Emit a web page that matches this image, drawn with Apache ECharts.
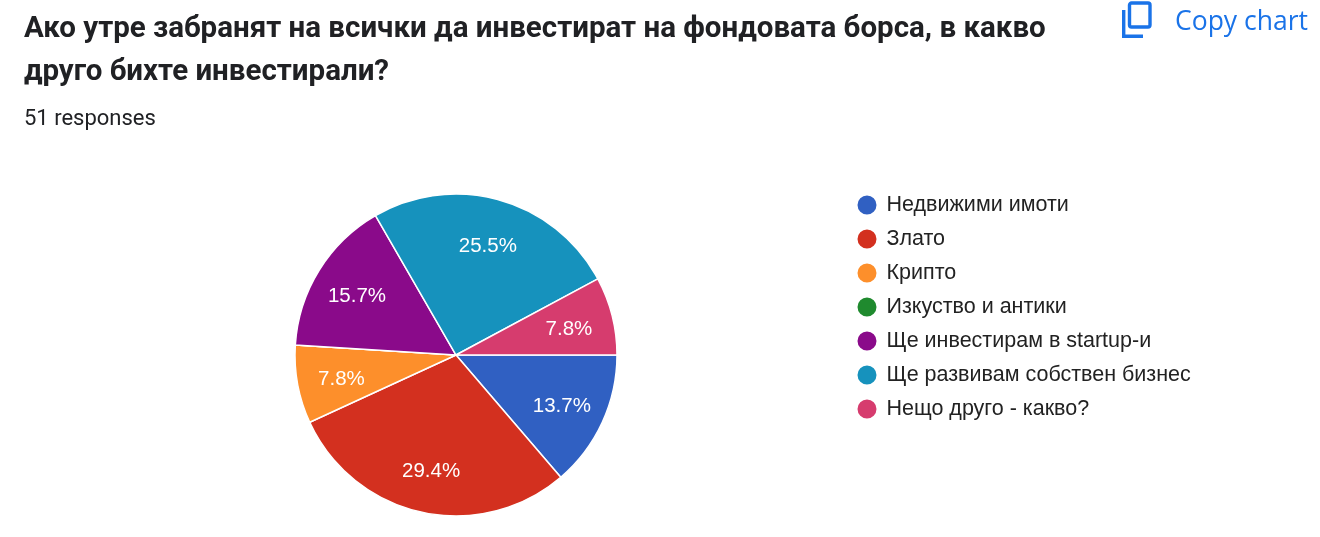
<!DOCTYPE html>
<html>
<head>
<meta charset="utf-8">
<script src="https://cdn.jsdelivr.net/npm/echarts@6/dist/echarts.min.js"></script>
<style>
  html, body { margin: 0; padding: 0; background: #fff; }
  #chart { width: 1320px; height: 537px; }
</style>
</head>
<body>
<div id="chart"></div>
<script>
// answers and how many people picked each one (51 responses)
var categories = ['Недвижими имоти', 'Злато', 'Крипто', 'Изкуство и антики',
                  'Ще инвестирам в startup-и', 'Ще развивам собствен бизнес', 'Нещо друго - какво?'];
var counts = [7, 15, 4, 0, 8, 13, 4];
var colors = ['#3060c2', '#d3301f', '#fd8f2b', '#1f8a2e', '#8a0a8a', '#1692bd', '#d63c6e'];

var total = 0;
for (var i = 0; i < counts.length; i++) total += counts[i];

var pieData = [];
for (var i = 0; i < categories.length; i++) {
    pieData.push({ name: categories[i], value: counts[i] });
}

var headFont = 'Roboto, Arial, sans-serif';
var chartFont = '"Liberation Sans", Arial, sans-serif';
var chart = echarts.init(document.getElementById('chart'), null, { renderer: 'canvas' });

chart.setOption({
    animation: false,
    color: colors,
    title: [{
        text: 'Ако утре забранят на всички да инвестират на фондовата борса, в какво\nдруго бихте инвестирали?',
        left: 24, top: 8, padding: 0,
        textStyle: { fontFamily: headFont, fontSize: 29.5, fontWeight: 'bold', color: '#202124', lineHeight: 43 }
    }, {
        text: '51 responses',
        left: 24, top: 107, padding: 0,
        textStyle: { fontFamily: headFont, fontSize: 22, fontWeight: 'normal', color: '#202124', lineHeight: 24 }
    }],
    legend: {
        orient: 'vertical',
        left: 855.5, top: 193.5,
        padding: 0,
        icon: 'circle',
        itemWidth: 21, itemHeight: 21, itemGap: 11,
        selectedMode: false,
        textStyle: { fontFamily: chartFont, fontSize: 21.5, color: '#222', lineHeight: 21, padding: [0, 0, 0, 4] },
        data: categories
    },
    graphic: [{
        type: 'group',
        x: 1122, y: 0,
        children: [{
            type: 'rect',
            shape: { x: 7.5, y: 3, width: 20.5, height: 24, r: 2 },
            style: { fill: 'none', stroke: '#1a73e8', lineWidth: 3.4 }
        }, {
            type: 'polyline',
            shape: { points: [[1.7, 10], [1.7, 36.3], [21, 36.3]] },
            style: { fill: 'none', stroke: '#1a73e8', lineWidth: 3.4 }
        }]
    }, {
        type: 'text',
        left: 1175, top: 9,
        style: { text: 'Copy chart', fontFamily: '"Open Sans", Roboto, sans-serif', fontSize: 26.5, fill: '#1a73e8' }
    }],
    series: [{
        type: 'pie',
        center: [456, 355],
        radius: 161,
        startAngle: 0,
        clockwise: true,
        avoidLabelOverlap: false,
        label: { show: false },
        labelLine: { show: false },
        emphasis: { disabled: true },
        itemStyle: { borderColor: '#fff', borderWidth: 1.5 },
        data: pieData
    }, {
        // transparent ring only used to push the percent labels outward
        type: 'pie',
        center: [456, 355],
        radius: [66, 161],
        startAngle: 0,
        clockwise: true,
        silent: true,
        avoidLabelOverlap: false,
        emphasis: { disabled: true },
        itemStyle: { color: 'rgba(0,0,0,0)', borderWidth: 0 },
        labelLine: { show: false },
        label: {
            show: true,
            position: 'inside',
            offset: [0, 3],
            color: '#fff',
            fontFamily: chartFont,
            fontSize: 20.5,
            formatter: function (p) {
                if (!p.value) return '';
                return (p.value / total * 100).toFixed(1) + '%';
            }
        },
        data: pieData
    }]
});
</script>
</body>
</html>
